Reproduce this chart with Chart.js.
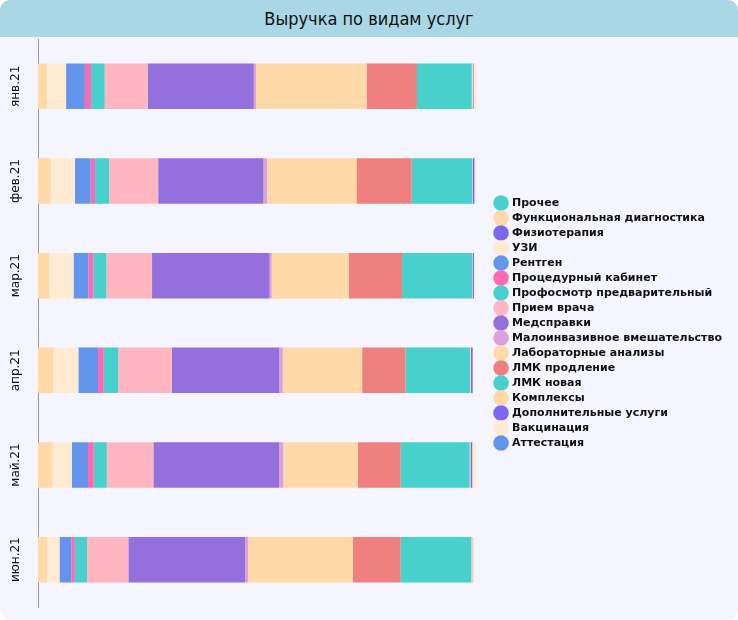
<!DOCTYPE html>
<html>
<head>
<meta charset="utf-8">
<script src="https://cdn.jsdelivr.net/npm/chart.js@4/dist/chart.umd.min.js"></script>
<style>
  html, body { margin: 0; padding: 0; background: #ffffff; }
  .card {
    width: 738px; height: 620px; background: #f5f5ff;
    border-radius: 10px; overflow: hidden; position: relative;
  }
  .card-title {
    position: relative; z-index: 2;
    height: 37px; line-height: 37px; background: #a9d7e6;
    text-align: center; font-family: "Liberation Sans Narrow", "DejaVu Sans Condensed", sans-serif;
    font-size: 18px; color: #111;
  }
  .chart-box { position: absolute; left: 0; top: 25px; width: 738px; height: 595px; z-index: 1; }
</style>
</head>
<body>
<div class="card">
  <div class="card-title">Выручка по видам услуг</div>
  <div class="chart-box"><canvas id="chart"></canvas></div>
</div>
<script>
// months
var months = ['янв.21', 'фев.21', 'мар.21', 'апр.21', 'май.21', 'июн.21'];

// share of revenue, %
var prochee          = [0, 0, 0, 0, 0, 0];
var funkcDiagn       = [2.0, 2.9, 2.6, 3.5, 3.3, 2.1];
var fizioterapiya    = [0, 0, 0, 0, 0, 0];
var uzi              = [4.4, 5.5, 5.5, 5.7, 4.4, 2.8];
var rentgen          = [4.3, 3.6, 3.4, 4.5, 3.7, 2.7];
var procedurniy      = [1.4, 1.0, 1.1, 1.3, 1.3, 0.8];
var profosmotr       = [3.1, 3.2, 3.0, 3.3, 3.0, 2.8];
var priemVracha      = [9.8, 11.2, 10.4, 12.2, 10.6, 9.4];
var medspravki       = [24.2, 24.0, 26.8, 24.5, 28.7, 26.6];
var maloinvaz        = [0.5, 0.8, 0.5, 0.8, 0.9, 0.7];
var laboratornye     = [25.2, 20.4, 17.6, 18.1, 17.0, 23.9];
var lmkProdlenie     = [11.5, 12.6, 12.1, 9.9, 9.8, 10.9];
var lmkNovaya        = [12.5, 13.8, 16.0, 14.7, 15.7, 16.1];
var kompleksy        = [0.2, 0.1, 0.1, 0.2, 0.2, 0.3];
var dopUslugi        = [0.2, 0.4, 0.3, 0.4, 0.4, 0.1];
var vakcinaciya      = [0.8, 0.3, 0.1, 0.1, 0.9, 0.1];
var attestaciya      = [0, 0, 0, 0, 0, 0];

var series = [
    ['Прочее', prochee, '#48d1cc'],
    ['Функциональная диагностика', funkcDiagn, '#ffdaa8'],
    ['Физиотерапия', fizioterapiya, '#7b68ee'],
    ['УЗИ', uzi, '#ffebd2'],
    ['Рентген', rentgen, '#6495ed'],
    ['Процедурный кабинет', procedurniy, '#ff69b4'],
    ['Профосмотр предварительный', profosmotr, '#48d1cc'],
    ['Прием врача', priemVracha, '#ffb6c1'],
    ['Медсправки', medspravki, '#9370db'],
    ['Малоинвазивное вмешательство', maloinvaz, '#dda0dd'],
    ['Лабораторные анализы', laboratornye, '#ffdaa8'],
    ['ЛМК продление', lmkProdlenie, '#f08080'],
    ['ЛМК новая', lmkNovaya, '#48d1cc'],
    ['Комплексы', kompleksy, '#ffdaa8'],
    ['Дополнительные услуги', dopUslugi, '#7b68ee'],
    ['Вакцинация', vakcinaciya, '#ffebd2'],
    ['Аттестация', attestaciya, '#6495ed']
];

var datasets = series.map(function (s) {
    return {
        label: s[0],
        data: s[1],
        backgroundColor: s[2],
        borderWidth: 0,
        barPercentage: 0.6,
        categoryPercentage: 0.8
    };
});

new Chart(document.getElementById('chart'), {
    type: 'bar',
    data: { labels: months, datasets: datasets },
    options: {
        indexAxis: 'y',
        responsive: true,
        maintainAspectRatio: false,
        animation: false,
        layout: { padding: { left: 0, right: 6, top: 14, bottom: 13 } },
        scales: {
            x: {
                // a little headroom past 100% so the bars stop short of the legend
                stacked: true, min: 0, max: 103.4, display: false
            },
            y: {
                stacked: true,
                grid: { display: false, drawTicks: false },
                border: { display: true, color: '#999999', width: 1 },
                afterFit: function (scale) { scale.width = 38; },
                ticks: {
                    minRotation: 90, maxRotation: 90, padding: 0,
                    crossAlign: 'center',
                    color: '#111', font: { family: 'DejaVu Sans', size: 12 }
                }
            }
        },
        plugins: {
            legend: {
                position: 'right',
                maxWidth: 300,
                labels: {
                    usePointStyle: true, pointStyle: 'circle',
                    boxWidth: 12, boxHeight: 12, padding: 4,
                    color: '#111',
                    font: { family: 'DejaVu Sans', size: 11, weight: 'bold' }
                }
            },
            tooltip: { enabled: false }
        }
    }
});
</script>
</body>
</html>
